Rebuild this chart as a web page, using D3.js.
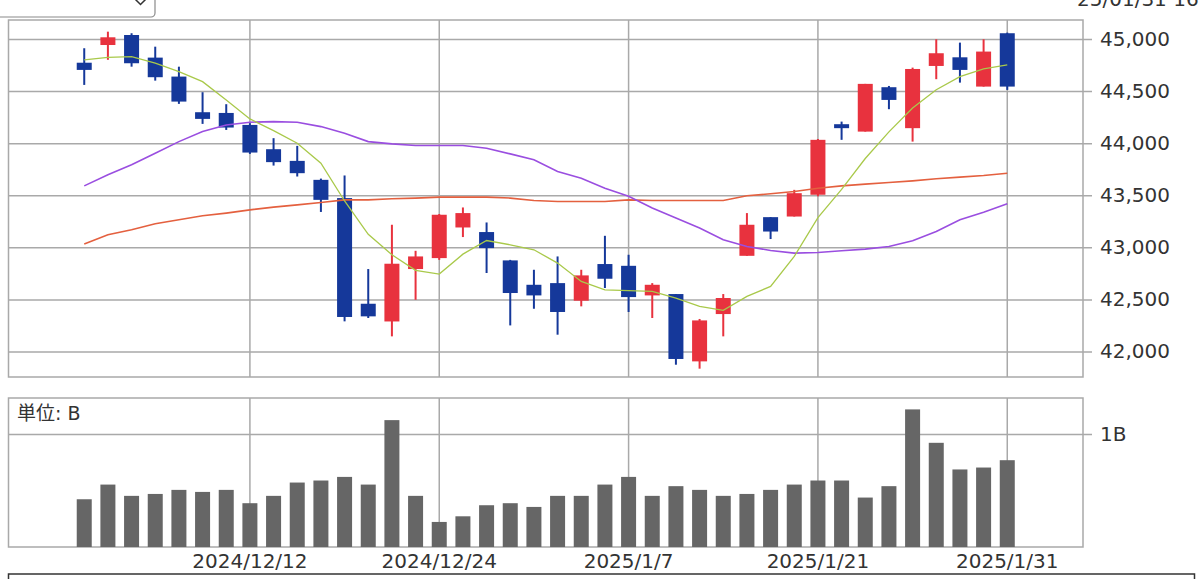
<!DOCTYPE html>
<html>
<head>
<meta charset="utf-8">
<script src="https://cdn.jsdelivr.net/npm/d3@7"></script>
<style>
    body { margin: 0; background: #fff; overflow: hidden; }
    text { font-family: "DejaVu Sans", "Noto Sans CJK JP", sans-serif; fill: #333; }
</style>
</head>
<body>
<div id="chart"></div>
<script>

// == DATA == //
let dates = ["2024/12/3","2024/12/4","2024/12/5","2024/12/6","2024/12/9","2024/12/10","2024/12/11","2024/12/12",
    "2024/12/13","2024/12/16","2024/12/17","2024/12/18","2024/12/19","2024/12/20","2024/12/23","2024/12/24",
    "2024/12/26","2024/12/27","2024/12/30","2024/12/31","2025/1/2","2025/1/3","2025/1/6","2025/1/7",
    "2025/1/8","2025/1/10","2025/1/13","2025/1/14","2025/1/15","2025/1/16","2025/1/17","2025/1/21",
    "2025/1/22","2025/1/23","2025/1/24","2025/1/27","2025/1/28","2025/1/29","2025/1/30","2025/1/31"];

let open  = [44772,44942,45038,44821,44639,44297,44290,44175,43942,43830,43648,43473,42459,42289,42792,42897,
    43191,43147,42875,42641,42657,42488,42840,42823,42539,42552,41906,42360,42919,43290,43296,43505,
    44182,44111,44537,44144,44741,44824,44543,45055];
let high  = [44911,45070,45055,44926,44734,44489,44374,44192,44048,43974,43660,43690,42792,43217,42967,43320,
    43383,43239,42880,42785,42913,42785,43111,42929,42657,42552,42313,42552,43329,43290,43552,44040,
    44207,44569,44549,44725,44997,44965,44997,45061];
let low   = [44559,44800,44734,44600,44377,44185,44127,43897,43785,43680,43340,42290,42322,42146,42497,42880,
    43099,42754,42251,42411,42162,42434,42610,42380,42322,41874,41836,42146,42919,43080,43296,43490,
    44032,44111,44326,44015,44614,44581,44543,44511];
let close = [44703,45016,44767,44633,44399,44233,44150,43910,43818,43712,43456,42332,42338,42843,42913,43313,
    43329,42993,42562,42539,42380,42731,42699,42523,42641,41929,42299,42514,43217,43152,43520,44032,
    44144,44569,44415,44712,44863,44703,44879,44543];

// moving averages (short / middle / long)
let ma5  = [44799,44824,44830,44767,44687,44590,44415,44233,44121,44000,43808,43445,43125,42929,42780,42744,
    42935,43066,43025,42977,42849,42673,42593,42584,42577,42514,42434,42395,42530,42625,42913,43285,
    43556,43853,44108,44338,44513,44639,44712,44751];
let ma25 = [43590,43696,43792,43904,44015,44111,44175,44201,44207,44201,44159,44096,44015,43993,43977,43977,
    43977,43952,43897,43840,43728,43664,43568,43490,43377,43281,43185,43073,43009,42970,42945,42951,
    42967,42983,43009,43063,43153,43265,43338,43418];
let ma75 = [43032,43121,43169,43226,43265,43303,43329,43360,43386,43408,43430,43456,43456,43466,43473,43482,
    43482,43482,43473,43450,43440,43440,43440,43456,43450,43450,43450,43450,43495,43514,43536,43568,
    43590,43607,43622,43638,43658,43674,43690,43712];

// volume, billions
let volume = [0.423,0.553,0.453,0.470,0.506,0.488,0.506,0.388,0.453,0.571,0.589,0.621,0.553,1.124,0.453,0.222,
    0.272,0.370,0.388,0.355,0.453,0.453,0.553,0.621,0.453,0.539,0.506,0.453,0.470,0.506,0.553,0.589,
    0.589,0.438,0.539,1.219,0.923,0.687,0.704,0.769];

let priceTicks = [42000, 42500, 43000, 43500, 44000, 44500, 45000];
let volumeTicks = [1];
let dateTicks = ["2024/12/12", "2024/12/24", "2025/1/7", "2025/1/21", "2025/1/31"];

// == SVG == //
let width = 1200, height = 579;
let left = 8.5, right = 1083;
let main = {top: 20, bottom: 377};
let vol = {top: 398, bottom: 547};

let colUp = "#e8323e", colDown = "#15389a", colGrid = "#a9a9a9";

let svg = d3.select("#chart").append("svg")
    .attr("width", width)
    .attr("height", height);

let candles = dates.map((d, i) => ({
    date: d, open: open[i], high: high[i], low: low[i], close: close[i], vol: volume[i]
}));

// scales
let x = d3.scalePoint()
    .domain(dates)
    .range([left, right])
    .padding(3.2);

let y = d3.scaleLinear()
    .domain([41756, 45182])
    .range([main.bottom, main.top]);

let yVol = d3.scaleLinear()
    .domain([0, 1.32])
    .range([vol.bottom, vol.top]);

// top controls (select box + timestamp)
svg.append("rect")
    .attr("x", -10).attr("y", -10)
    .attr("width", 165).attr("height", 27)
    .attr("rx", 4)
    .attr("fill", "#fff")
    .attr("stroke", "#8a8a8a")
    .attr("stroke-width", 1.2);

svg.append("path")
    .attr("d", "M135,-1 L140.5,4.5 L146,-1")
    .attr("fill", "none")
    .attr("stroke", "#333")
    .attr("stroke-width", 1.5);

svg.append("text")
    .attr("x", 1077).attr("y", 6)
    .attr("font-size", "20px")
    .text("25/01/31 16:00");

// == PANELS == //
function panel(p, yScale, ticks, fmt) {
    let g = svg.append("g");

    g.append("rect")
        .attr("x", left).attr("y", p.top)
        .attr("width", right - left).attr("height", p.bottom - p.top)
        .attr("fill", "#fff");

    // horizontal grid + right axis
    let axis = d3.axisRight(yScale)
        .tickValues(ticks)
        .tickFormat(fmt)
        .tickSize(-(right - left))
        .tickPadding(17);

    let ax = g.append("g")
        .attr("transform", `translate(${right + 9},0)`)
        .call(axis);
    ax.select(".domain").remove();
    ax.selectAll("line")
        .attr("stroke", colGrid)
        .attr("stroke-width", 1.5)
        .attr("x1", -9 - (right - left))
        .attr("x2", 0);
    ax.selectAll("text")
        .attr("x", 8)
        .attr("font-size", "20px")
        .attr("fill", "#333");

    // vertical grid
    g.selectAll(".vgrid")
        .data(dateTicks)
        .enter()
        .append("line")
        .attr("class", "vgrid")
        .attr("x1", d => x(d)).attr("x2", d => x(d))
        .attr("y1", p.top).attr("y2", p.bottom)
        .attr("stroke", colGrid)
        .attr("stroke-width", 1.5);

    g.append("rect")
        .attr("x", left).attr("y", p.top)
        .attr("width", right - left).attr("height", p.bottom - p.top)
        .attr("fill", "none")
        .attr("stroke", colGrid)
        .attr("stroke-width", 1.5);

    return g;
}

let mainG = panel(main, y, priceTicks, d3.format(","));
let volG = panel(vol, yVol, volumeTicks, d => d + "B");

// == CANDLES == //
let bodyW = 15;

let c = mainG.selectAll(".candle")
    .data(candles)
    .enter()
    .append("g")
    .attr("class", "candle");

c.append("line")
    .attr("x1", d => x(d.date)).attr("x2", d => x(d.date))
    .attr("y1", d => y(d.high)).attr("y2", d => y(d.low))
    .attr("stroke", d => d.close >= d.open ? colUp : colDown)
    .attr("stroke-width", 2);

c.append("rect")
    .attr("x", d => x(d.date) - bodyW / 2)
    .attr("y", d => y(Math.max(d.open, d.close)))
    .attr("width", bodyW)
    .attr("height", d => Math.max(2, Math.abs(y(d.open) - y(d.close))))
    .attr("fill", d => d.close >= d.open ? colUp : colDown);

// == MOVING AVERAGES == //
let maLines = [
    {values: ma75, color: "#e4603f", w: 1.6},
    {values: ma25, color: "#9a4ee0", w: 1.6},
    {values: ma5,  color: "#a9c94a", w: 1.3}
];

let line = d3.line()
    .x((d, i) => x(dates[i]))
    .y(d => y(d));

mainG.selectAll(".ma")
    .data(maLines)
    .enter()
    .append("path")
    .attr("class", "ma")
    .attr("d", d => line(d.values))
    .attr("fill", "none")
    .attr("stroke", d => d.color)
    .attr("stroke-width", d => d.w);

// == VOLUME == //
volG.selectAll(".bar")
    .data(candles)
    .enter()
    .append("rect")
    .attr("class", "bar")
    .attr("x", d => x(d.date) - 7.5)
    .attr("y", d => yVol(d.vol))
    .attr("width", 15)
    .attr("height", d => yVol(0) - yVol(d.vol))
    .attr("fill", "#666");

volG.append("text")
    .attr("x", 17).attr("y", 420)
    .attr("font-size", "19px")
    .text("単位: B");

// date labels
svg.selectAll(".dlabel")
    .data(dateTicks)
    .enter()
    .append("text")
    .attr("class", "dlabel")
    .attr("x", d => x(d))
    .attr("y", 568)
    .attr("text-anchor", "middle")
    .attr("font-size", "20px")
    .text(d => d);

// bottom box
svg.append("rect")
    .attr("x", 8.5).attr("y", 574)
    .attr("width", 1186).attr("height", 30)
    .attr("fill", "#fff")
    .attr("stroke", "#333")
    .attr("stroke-width", 1.5);

</script>
</body>
</html>
